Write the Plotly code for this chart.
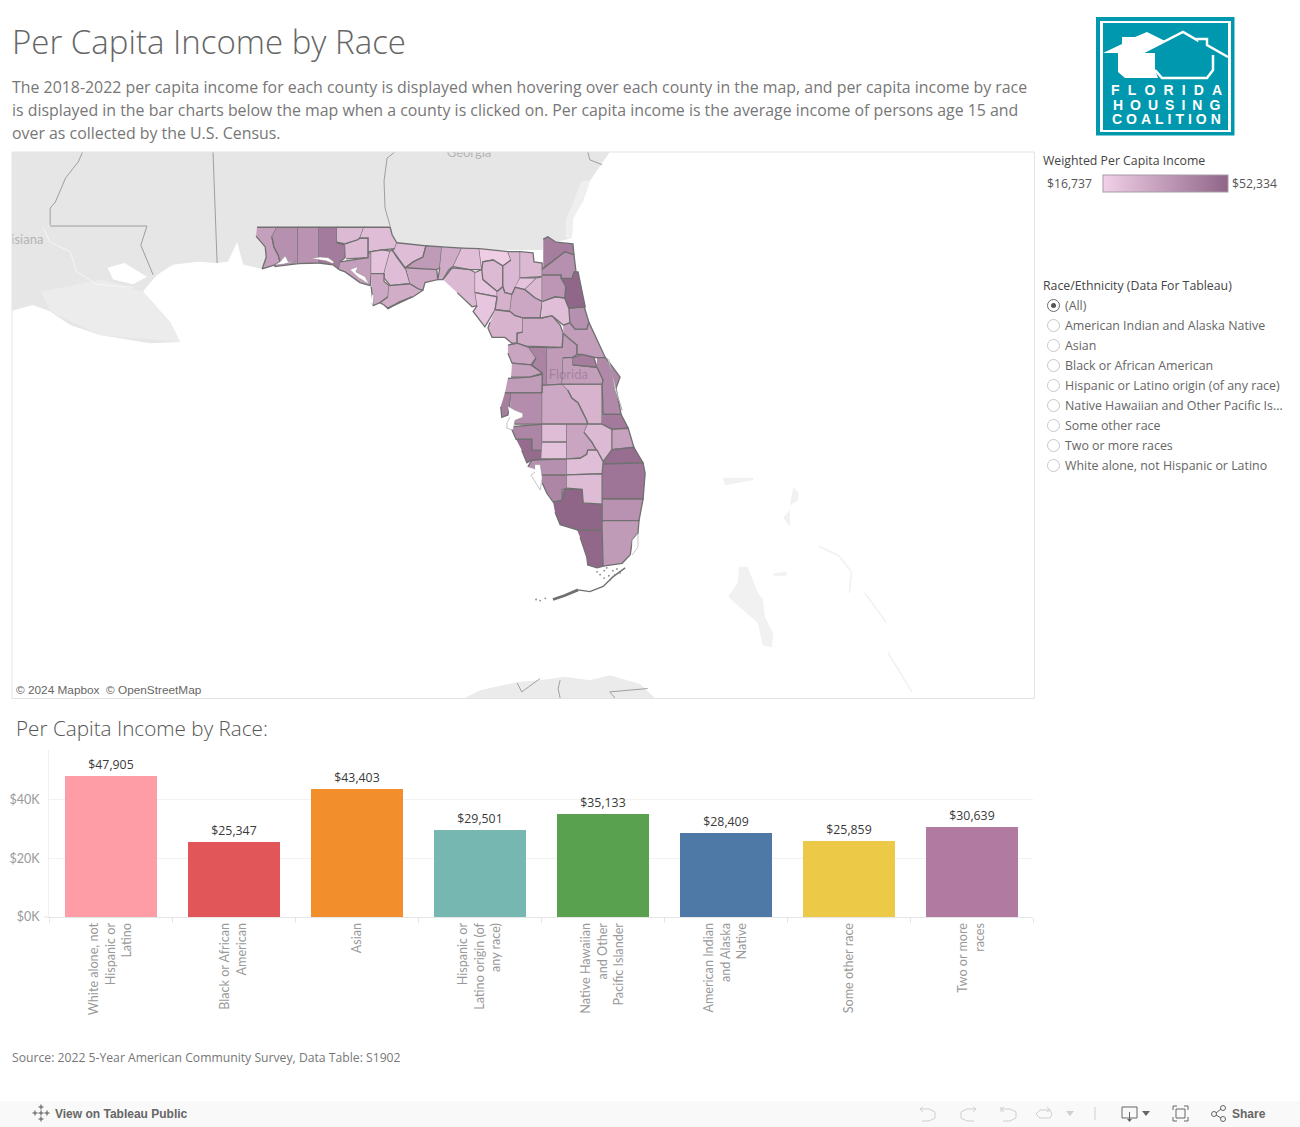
import math
import plotly.graph_objects as go
from plotly.colors import sample_colorscale

W, H = 1300, 1127

# bar chart data
RACE_LABELS = ["White alone, not<br>Hispanic or<br>Latino", "Black or African<br>American", "Asian",
               "Hispanic or<br>Latino origin (of<br>any race)", "Native Hawaiian<br>and Other<br>Pacific Islander",
               "American Indian<br>and Alaska<br>Native", "Some other race", "Two or more<br>races"]
RACE_INCOME = [47905, 25347, 43403, 29501, 35133, 28409, 25859, 30639]
RACE_COLORS = ["#FF9DA7", "#E15759", "#F28E2B", "#76B7B2", "#59A14F", "#4E79A7", "#EDC948", "#B07AA1"]
Y_TICKS = [0, 20000, 40000]
Y_TICK_TEXT = ["$0K", "$20K", "$40K"]

RADIO_OPTIONS = ["(All)", "American Indian and Alaska Native", "Asian", "Black or African American",
                 "Hispanic or Latino origin (of any race)", "Native Hawaiian and Other Pacific Is...",
                 "Some other race", "Two or more races", "White alone, not Hispanic or Latino"]

INCOME_MIN, INCOME_MAX = 16737, 52334
INCOME_SCALE = [[0, "#F1D0E8"], [1, "#8F6588"]]

# county income
COUNTY_INCOME = {
    "Escambia": 32700, "Santa Rosa": 38000, "Okaloosa": 37000, "Walton": 45000, "Holmes": 24000,
    "Washington": 24000, "Jackson": 23000, "Bay": 33000, "Calhoun": 21000, "Liberty": 23000,
    "Gulf": 30000, "Franklin": 28500, "Gadsden": 23000, "Leon": 34500, "Wakulla": 30000,
    "Jefferson": 29000, "Taylor": 24500, "Madison": 22700, "Hamilton": 17800, "Suwannee": 24000,
    "Lafayette": 20300, "Dixie": 20300, "Columbia": 25000, "Baker": 24500, "Union": 21000,
    "Bradford": 24000, "Gilchrist": 27000, "Alachua": 30300, "Levy": 26300, "Marion": 29000,
    "Citrus": 31000, "Sumter": 42000, "Hernando": 32400, "Pasco": 34000, "Pinellas": 44000,
    "Hillsborough": 39000, "Lake": 34500, "Polk": 30000, "Osceola": 26300, "Orange": 33000,
    "Seminole": 44500, "Volusia": 33500, "Flagler": 38000, "Putnam": 22700, "St. Johns": 52000,
    "Clay": 36000, "Duval": 38000, "Nassau": 44500, "Brevard": 40500, "Indian River": 45200,
    "St. Lucie": 32000, "Martin": 49500, "Palm Beach": 47000, "Broward": 37500, "Miami-Dade": 34500,
    "Monroe": 51500, "Collier": 52300, "Lee": 41600, "Charlotte": 38000, "Sarasota": 50000,
    "Manatee": 41600, "Hardee": 23000, "DeSoto": 21400, "Highlands": 31000, "Okeechobee": 24000,
    "Glades": 22700, "Hendry": 23500,
}

# county outlines as lon, lat
COUNTY_OUTLINE = {
    "Escambia": [(-87.58,30.98),(-87.19,30.98),(-87.29,30.82),(-87.25,30.65),(-87.17,30.52),(-87.13,30.40),(-87.23,30.35),(-87.48,30.28),(-87.40,30.48),(-87.42,30.65),(-87.60,30.83)],
    "Santa Rosa": [(-87.19,30.98),(-86.78,30.98),(-86.78,30.37),(-87.23,30.32),(-87.23,30.35),(-87.13,30.40),(-87.17,30.52),(-87.25,30.65),(-87.29,30.82)],
    "Okaloosa": [(-86.78,30.98),(-86.37,30.98),(-86.37,30.47),(-86.37,30.38),(-86.78,30.37)],
    "Walton": [(-86.37,30.98),(-86.02,30.98),(-86.02,30.72),(-85.86,30.68),(-85.86,30.47),(-85.96,30.40),(-85.98,30.27),(-86.10,30.35),(-86.37,30.38)],
    "Holmes": [(-86.02,30.98),(-85.49,30.98),(-85.57,30.80),(-85.61,30.77),(-85.86,30.70),(-86.02,30.73)],
    "Washington": [(-85.86,30.70),(-85.61,30.77),(-85.57,30.80),(-85.41,30.80),(-85.41,30.47),(-85.84,30.45)],
    "Jackson": [(-85.49,30.98),(-84.98,30.98),(-84.94,30.85),(-84.85,30.72),(-84.89,30.62),(-85.14,30.60),(-85.35,30.57),(-85.41,30.57),(-85.41,30.80),(-85.57,30.80)],
    "Bay": [(-85.96,30.40),(-85.41,30.47),(-85.41,30.55),(-85.35,30.55),(-85.35,30.18),(-85.37,30.00),(-85.57,30.05),(-85.86,30.23),(-85.98,30.27)],
    "Calhoun": [(-85.35,30.57),(-85.14,30.60),(-84.98,30.58),(-85.10,30.20),(-85.35,30.20)],
    "Liberty": [(-84.98,30.58),(-84.94,30.60),(-84.85,30.48),(-84.67,30.27),(-84.59,30.03),(-84.98,30.00),(-85.10,30.13),(-85.10,30.20)],
    "Gulf": [(-85.35,30.20),(-85.10,30.20),(-85.10,30.07),(-85.00,30.00),(-85.02,29.81),(-85.18,29.71),(-85.31,29.66),(-85.33,29.83),(-85.35,29.98)],
    "Franklin": [(-85.00,30.00),(-84.59,30.03),(-84.44,29.95),(-84.34,29.92),(-84.53,29.81),(-84.79,29.73),(-85.02,29.61),(-85.10,29.67),(-85.18,29.71),(-85.02,29.81)],
    "Gadsden": [(-84.85,30.72),(-84.28,30.67),(-84.34,30.48),(-84.53,30.40),(-84.69,30.30),(-84.85,30.48),(-84.94,30.60),(-84.89,30.62)],
    "Leon": [(-84.67,30.30),(-84.53,30.40),(-84.34,30.48),(-84.28,30.67),(-83.97,30.65),(-84.01,30.30),(-84.07,30.27)],
    "Wakulla": [(-84.67,30.30),(-84.07,30.27),(-84.05,30.10),(-84.30,30.05),(-84.34,29.92),(-84.44,29.95),(-84.59,30.03)],
    "Jefferson": [(-83.97,30.65),(-83.58,30.63),(-83.75,30.32),(-83.83,30.27),(-83.95,30.10),(-84.05,30.10),(-84.01,30.30)],
    "Taylor": [(-83.95,30.10),(-83.77,30.30),(-83.42,30.27),(-83.32,30.22),(-83.32,29.88),(-83.28,29.66),(-83.38,29.64),(-83.67,29.88)],
    "Madison": [(-83.58,30.63),(-83.24,30.62),(-83.19,30.27),(-83.42,30.27),(-83.75,30.32)],
    "Hamilton": [(-83.24,30.62),(-82.68,30.57),(-82.62,30.43),(-82.78,30.33),(-82.97,30.43),(-83.17,30.40),(-83.19,30.27)],
    "Suwannee": [(-83.19,30.27),(-83.17,30.40),(-82.97,30.43),(-82.78,30.33),(-82.78,29.98),(-82.89,29.90),(-83.17,30.10)],
    "Lafayette": [(-83.32,30.22),(-83.19,30.27),(-83.17,30.10),(-82.89,29.90),(-82.89,29.81),(-83.32,29.88)],
    "Dixie": [(-83.32,29.88),(-82.89,29.81),(-82.93,29.59),(-83.07,29.38),(-83.13,29.30),(-83.36,29.56),(-83.28,29.66)],
    "Columbia": [(-82.68,30.57),(-82.44,30.57),(-82.44,30.13),(-82.54,29.97),(-82.60,29.85),(-82.74,29.88),(-82.78,29.98),(-82.78,30.33),(-82.62,30.43)],
    "Baker": [(-82.44,30.57),(-82.19,30.55),(-82.17,30.40),(-82.01,30.38),(-82.01,30.15),(-82.44,30.13)],
    "Union": [(-82.44,30.13),(-82.11,30.13),(-82.35,29.93),(-82.54,29.97)],
    "Bradford": [(-82.11,30.13),(-82.01,30.15),(-82.01,29.73),(-82.15,29.79),(-82.35,29.93)],
    "Gilchrist": [(-82.89,29.90),(-82.78,29.98),(-82.74,29.88),(-82.60,29.85),(-82.64,29.56),(-82.93,29.59),(-82.89,29.81)],
    "Alachua": [(-82.60,29.85),(-82.54,29.97),(-82.35,29.93),(-82.15,29.79),(-82.01,29.73),(-82.05,29.45),(-82.39,29.45),(-82.54,29.49),(-82.64,29.56)],
    "Levy": [(-82.93,29.59),(-82.64,29.56),(-82.54,29.49),(-82.39,29.45),(-82.39,29.21),(-82.50,29.19),(-82.50,29.02),(-82.60,29.02),(-82.74,29.12),(-82.99,29.12),(-83.07,29.28),(-83.03,29.38)],
    "Marion": [(-82.39,29.45),(-82.03,29.45),(-81.82,29.49),(-81.66,29.33),(-81.60,29.19),(-81.62,28.95),(-82.33,28.97),(-82.50,29.02),(-82.50,29.19),(-82.39,29.21)],
    "Citrus": [(-82.68,28.99),(-82.50,29.02),(-82.27,28.95),(-82.13,28.77),(-82.23,28.65),(-82.60,28.68),(-82.68,28.85)],
    "Sumter": [(-82.27,28.95),(-81.92,28.95),(-81.92,28.30),(-82.01,28.30),(-82.01,28.51),(-82.21,28.65),(-82.13,28.77)],
    "Hernando": [(-82.60,28.68),(-82.23,28.65),(-82.01,28.51),(-82.25,28.44),(-82.62,28.44)],
    "Pasco": [(-82.68,28.42),(-82.25,28.44),(-82.01,28.49),(-82.01,28.17),(-82.74,28.17)],
    "Pinellas": [(-82.74,28.17),(-82.62,28.17),(-82.64,28.00),(-82.68,27.79),(-82.80,27.75),(-82.82,27.93)],
    "Hillsborough": [(-82.62,28.17),(-82.01,28.17),(-82.01,27.63),(-82.54,27.63),(-82.64,27.87)],
    "Lake": [(-81.92,28.94),(-81.62,28.95),(-81.60,29.19),(-81.51,29.12),(-81.33,28.99),(-81.33,28.83),(-81.41,28.78),(-81.60,28.77),(-81.62,28.32),(-81.92,28.30)],
    "Polk": [(-82.01,28.17),(-82.01,28.30),(-81.62,28.32),(-81.51,28.22),(-81.43,28.08),(-81.31,28.00),(-81.21,27.82),(-81.14,27.70),(-81.12,27.63),(-82.01,27.63)],
    "Osceola": [(-81.62,28.32),(-80.84,28.32),(-80.84,27.63),(-81.12,27.63),(-81.14,27.70),(-81.21,27.82),(-81.31,28.00),(-81.43,28.08),(-81.51,28.22)],
    "Orange": [(-81.60,28.77),(-81.41,28.78),(-81.41,28.65),(-80.94,28.61),(-80.82,28.39),(-80.84,28.32),(-81.62,28.32)],
    "Seminole": [(-81.41,28.78),(-81.23,28.83),(-81.00,28.78),(-80.94,28.61),(-81.41,28.65)],
    "Volusia": [(-81.60,29.33),(-81.47,29.37),(-81.37,29.26),(-81.14,29.26),(-81.10,29.38),(-80.78,28.78),(-80.94,28.77),(-81.00,28.78),(-81.23,28.83),(-81.33,28.83),(-81.33,28.99),(-81.51,29.12),(-81.60,29.19)],
    "Flagler": [(-81.49,29.62),(-81.19,29.64),(-81.10,29.38),(-81.14,29.26),(-81.37,29.26),(-81.47,29.37)],
    "Putnam": [(-82.01,29.73),(-81.76,29.81),(-81.57,29.79),(-81.49,29.62),(-81.47,29.37),(-81.60,29.33),(-81.82,29.49),(-82.03,29.45)],
    "St. Johns": [(-81.64,30.12),(-81.43,30.12),(-81.39,30.23),(-81.31,30.23),(-81.17,29.64),(-81.49,29.62),(-81.57,29.79),(-81.55,29.98)],
    "Clay": [(-82.01,30.18),(-81.64,30.18),(-81.64,30.12),(-81.55,29.98),(-81.57,29.79),(-81.76,29.81),(-82.01,29.73)],
    "Duval": [(-82.01,30.27),(-81.82,30.40),(-81.57,30.57),(-81.39,30.52),(-81.35,30.23),(-81.39,30.23),(-81.43,30.12),(-81.64,30.12),(-81.64,30.18),(-82.01,30.18)],
    "Nassau": [(-81.99,30.78),(-81.90,30.82),(-81.74,30.73),(-81.41,30.70),(-81.39,30.52),(-81.57,30.57),(-81.82,30.40),(-81.99,30.30)],
    "Brevard": [(-80.94,28.77),(-80.78,28.78),(-80.69,28.68),(-80.49,28.44),(-80.57,28.25),(-80.47,27.80),(-80.82,27.80),(-80.84,28.32),(-80.82,28.39),(-80.94,28.61)],
    "Indian River": [(-80.82,27.80),(-80.47,27.80),(-80.33,27.56),(-80.65,27.54),(-80.84,27.63)],
    "St. Lucie": [(-80.65,27.54),(-80.33,27.56),(-80.22,27.23),(-80.65,27.19)],
    "Martin": [(-80.65,27.19),(-80.22,27.23),(-80.16,27.14),(-80.04,26.96),(-80.84,26.94),(-80.82,26.98)],
    "Palm Beach": [(-80.84,26.94),(-80.04,26.96),(-80.00,26.78),(-80.04,26.33),(-80.84,26.33)],
    "Broward": [(-80.84,26.33),(-80.04,26.33),(-80.12,25.95),(-80.84,25.95)],
    "Miami-Dade": [(-80.84,25.95),(-80.12,25.95),(-80.14,25.73),(-80.25,25.61),(-80.29,25.35),(-80.45,25.20),(-80.82,25.15)],
    "Monroe": [(-81.33,25.79),(-80.84,25.79),(-80.82,25.15),(-80.94,25.12),(-81.12,25.17),(-81.14,25.31),(-81.27,25.66)],
    "Collier": [(-81.80,26.28),(-81.62,26.31),(-81.58,26.50),(-81.23,26.50),(-81.21,26.26),(-80.84,26.24),(-80.84,25.79),(-81.33,25.79),(-81.66,25.88),(-81.76,26.10)],
    "Lee": [(-82.05,26.75),(-81.53,26.75),(-81.53,26.52),(-81.62,26.49),(-81.62,26.31),(-81.80,26.28),(-81.92,26.43),(-82.01,26.61)],
    "Charlotte": [(-82.29,26.89),(-82.21,27.01),(-81.53,27.03),(-81.53,26.75),(-82.05,26.75),(-82.15,26.85)],
    "Sarasota": [(-82.52,27.37),(-82.21,27.37),(-82.21,27.18),(-82.01,27.18),(-82.03,27.03),(-82.21,27.01),(-82.31,26.96),(-82.41,27.18)],
    "Manatee": [(-82.70,27.58),(-82.01,27.63),(-82.01,27.18),(-82.21,27.18),(-82.21,27.37),(-82.52,27.37),(-82.60,27.53)],
    "Hardee": [(-82.01,27.63),(-81.53,27.63),(-81.53,27.32),(-82.01,27.32)],
    "DeSoto": [(-82.01,27.32),(-81.53,27.32),(-81.53,27.03),(-82.03,27.03)],
    "Highlands": [(-81.53,27.63),(-81.12,27.63),(-81.19,27.49),(-81.04,27.32),(-80.94,27.18),(-81.12,27.18),(-81.14,27.11),(-81.27,27.04),(-81.53,27.03)],
    "Okeechobee": [(-81.12,27.63),(-80.84,27.63),(-80.65,27.54),(-80.65,27.19),(-80.82,26.98),(-80.94,27.18),(-81.04,27.32),(-81.19,27.49)],
    "Glades": [(-81.53,27.03),(-81.27,27.04),(-81.14,27.11),(-81.12,27.18),(-80.94,27.18),(-80.82,26.98),(-80.84,26.77),(-81.53,26.75)],
    "Hendry": [(-81.53,26.75),(-80.84,26.77),(-80.84,26.24),(-81.21,26.26),(-81.23,26.50),(-81.53,26.52)],
}

WATER = [
    [(-87.23,30.35),(-87.13,30.40),(-87.03,30.50),(-86.97,30.40),(-86.82,30.41),(-87.03,30.37)],
    [(-86.51,30.46),(-86.35,30.48),(-86.19,30.47),(-86.08,30.40),(-86.10,30.37),(-86.25,30.42)],
    [(-85.76,30.27),(-85.61,30.32),(-85.65,30.23),(-85.47,30.15),(-85.39,30.02),(-85.57,30.12)],
    [(-85.33,29.85),(-85.30,29.85),(-85.31,29.67),(-85.35,29.71)],
    [(-82.68,27.94),(-82.54,27.87),(-82.39,27.82),(-82.39,27.75),(-82.54,27.70),(-82.58,27.53),(-82.70,27.56),(-82.70,27.65),(-82.64,27.75)],
    [(-82.15,26.93),(-82.05,26.93),(-82.01,26.70),(-82.05,26.49),(-82.15,26.63),(-82.23,26.75),(-82.15,26.80)],
    [(-80.25,25.61),(-80.14,25.73),(-80.14,25.49),(-80.25,25.35)],
    [(-80.74,28.77),(-80.65,28.51),(-80.59,28.22),(-80.45,27.87),(-80.55,28.17),(-80.71,28.75)],
]
KEYS_LINE = [(-81.31,24.73),(-81.08,24.70),(-80.82,24.79),(-80.63,24.96),(-80.39,25.12)]
KEYS_THICK = [(-81.80,24.56),(-81.57,24.63),(-81.31,24.73)]
KEYS_DOTS_LON = [-82.13, -82.05, -81.95, -80.94, -80.88, -80.80, -80.71, -80.63, -80.55, -80.80, -80.69, -80.59, -80.49, -80.75]
KEYS_DOTS_LAT = [24.56, 24.54, 24.58, 25.05, 25.00, 25.07, 24.98, 25.07, 25.10, 24.94, 24.90, 25.00, 25.03, 25.12]
BARRIER_LINE = [(-85.04,29.61),(-84.73,29.73),(-84.55,29.81)]

LAND = [(-92.5,29.54),(-91.96,29.67),(-91.62,29.56),(-91.23,29.33),(-90.65,29.16),(-89.67,29.02),(-89.08,29.04),
        (-89.28,29.38),(-89.81,29.90),(-89.53,30.18),(-89.22,30.35),(-88.75,30.40),(-88.36,30.38),(-88.15,30.40),
        (-87.97,30.73),(-87.85,30.35),(-87.48,30.28),(-87.0,30.6),(-85.0,30.6),(-82.0,30.6),(-81.99,30.78),(-81.74,30.73),
        (-81.43,30.80),(-81.41,31.13),(-81.21,31.42),(-81.08,31.75),(-80.84,32.05),(-80.69,32.23),(-80.4,32.3),(-80.4,32.6),(-92.5,32.6)]
LA_SHALLOWS = [(-91.8,29.9),(-90.6,30.1),(-89.81,29.90),(-89.28,29.38),(-89.08,29.04),(-90.65,29.16),(-91.62,29.56)]
GA_SHALLOWS = [(-81.43,30.80),(-81.41,31.13),(-81.21,31.42),(-81.08,31.75),(-81.25,31.75),(-81.40,31.40),(-81.55,31.1),(-81.55,30.8)]
LAKE_PONTCHARTRAIN = [(-90.50,30.30),(-90.17,30.38),(-89.73,30.15),(-90.0,30.02),(-90.39,30.10)]
LA_RIVER = [(-91.76,30.98),(-91.62,30.73),(-91.23,30.57),(-91.10,30.23),(-90.71,30.02),(-90.0,29.97)]
BAHAMAS = [
    [(-78.48,26.70),(-77.89,26.70),(-77.89,26.66),(-78.44,26.57)],
    [(-77.11,26.54),(-77.01,26.45),(-77.01,26.31),(-77.17,26.22)],
    [(-77.17,26.14),(-77.17,25.84),(-77.30,26.0)],
    [(-78.17,25.14),(-78.00,25.14),(-77.80,24.68),(-77.70,24.56),(-77.66,24.25),(-77.50,23.96),(-77.52,23.71),(-77.70,23.74),(-77.80,24.14),(-78.15,24.43),(-78.38,24.61),(-78.19,24.86)],
    [(-77.50,25.02),(-77.23,25.05),(-77.25,24.98),(-77.48,24.98)],
]
BAHAMAS_THIN = [
    [(-76.60,25.50),(-76.21,25.33),(-75.97,25.05),(-76.01,24.68)],
    [(-75.71,24.68),(-75.28,24.14)],
    [(-75.26,23.62),(-74.79,22.91)],
]
CUBA = [(-83.52,22.80),(-83.22,22.94),(-82.83,23.02),(-82.44,23.09),(-82.05,23.12),(-81.57,23.18),(-81.08,23.12),
        (-80.69,23.21),(-80.10,23.05),(-79.81,22.80),(-79.8,22.4),(-83.5,22.4)]
STATE_LINES = [
    [(-88.44,32.5),(-88.44,32.23),(-88.36,30.38)],
    [(-91.62,31.0),(-89.73,31.0),(-89.85,30.68),(-89.77,30.52),(-89.61,30.18)],
    [(-91.62,31.02),(-91.62,31.30),(-91.52,31.40),(-91.32,31.80),(-91.07,32.07),(-90.99,32.23),(-90.9,32.4)],
    [(-84.89,32.23),(-85.04,32.13),(-85.10,31.75),(-85.08,31.30),(-84.98,31.0)],
    [(-81.12,32.23),(-81.08,32.10),(-80.84,32.02)],
    [(-82.50,23.07),(-82.41,22.91),(-82.05,23.15)],
    [(-81.66,23.12),(-81.70,22.97),(-81.66,22.80)],
    [(-79.95,22.97),(-80.69,22.91),(-80.59,22.80)],
]
MAP_LABELS = [("Georgia", -83.44, 32.20, "#B4B4B4"), ("Louisiana", -92.27, 30.75, "#B4B4B4"),
              ("Florida", -81.50, 28.46, "rgba(120,85,110,0.4)")]
MAP_LON_RANGE = [-92.366, -72.405]
MAP_LAT_RANGE = [22.80, 32.23]

BODY_FONT = "Open Sans"


def merc(lat):
    # web mercator northing in degrees, same as the base map
    return math.degrees(math.log(math.tan(math.pi / 4 + math.radians(lat) / 2)))


def fx(px):
    return px / W


def fy(py):
    return 1 - py / H


def outline(points):
    return [p[0] for p in points], [merc(p[1]) for p in points]


def income_color(value):
    return sample_colorscale(INCOME_SCALE, (value - INCOME_MIN) / (INCOME_MAX - INCOME_MIN))[0]


def px_path(points, close=False):
    path = "M" + " L".join(f"{fx(x):.5f},{fy(y):.5f}" for x, y in points)
    return path + " Z" if close else path


fig = go.Figure()


def add_area(points, fill, line_color=None, line_width=0):
    xs, ys = outline(points)
    fig.add_trace(go.Scatter(x=xs, y=ys, mode="lines", fill="toself", fillcolor=fill,
                             line=dict(color=line_color or fill, width=line_width),
                             hoverinfo="skip", showlegend=False))


def add_line(points, color, width):
    xs, ys = outline(points)
    fig.add_trace(go.Scatter(x=xs, y=ys, mode="lines", line=dict(color=color, width=width),
                             hoverinfo="skip", showlegend=False))


add_area(LAND, "#E6E6E6")
add_area(LA_SHALLOWS, "#ECECEC")
add_area(GA_SHALLOWS, "#EFEFEF")
add_area(LAKE_PONTCHARTRAIN, "#FFFFFF")
add_line(LA_RIVER, "#F6F6F6", 0.9)
for isle in BAHAMAS:
    add_area(isle, "#F1F1F1")
for isle in BAHAMAS_THIN:
    add_line(isle, "#F1F1F1", 1.5)
add_area(CUBA, "#EBEBEB")
for seg in STATE_LINES:
    add_line(seg, "#8C8C8C", 0.8)

for name, pts in COUNTY_OUTLINE.items():
    xs, ys = outline(pts)
    fig.add_trace(go.Scatter(x=xs, y=ys, mode="lines", fill="toself", name=name,
                             fillcolor=income_color(COUNTY_INCOME[name]),
                             line=dict(color="#707070", width=1.3),
                             hovertemplate=f"{name}: ${COUNTY_INCOME[name]:,}<extra></extra>", showlegend=False))
for bay in WATER:
    add_area(bay, "#FFFFFF", "#8A8A8A", 0.5)
add_line(KEYS_LINE, "#707070", 1.4)
add_line(KEYS_THICK, "#707070", 2.8)
add_line(BARRIER_LINE, "#707070", 1.6)
fig.add_trace(go.Scatter(x=KEYS_DOTS_LON, y=[merc(v) for v in KEYS_DOTS_LAT], mode="markers",
                         marker=dict(color="#8A8A8A", size=1.8), hoverinfo="skip", showlegend=False))

fig.add_trace(go.Scatter(x=[m[1] for m in MAP_LABELS], y=[merc(m[2]) for m in MAP_LABELS],
                         text=[m[0] for m in MAP_LABELS], mode="text", cliponaxis=True,
                         textfont=dict(family="Lato", size=13, color=[m[3] for m in MAP_LABELS]),
                         hoverinfo="skip", showlegend=False))

# only there to carry the gradient legend
fig.add_trace(go.Scatter(x=[None] * len(COUNTY_INCOME), y=[None] * len(COUNTY_INCOME), mode="markers",
                         marker=dict(color=list(COUNTY_INCOME.values()), colorscale=INCOME_SCALE,
                                     cmin=INCOME_MIN, cmax=INCOME_MAX, showscale=True,
                                     colorbar=dict(orientation="h", x=fx(1102.5), xanchor="left", y=fy(193), yanchor="bottom",
                                                   len=125, lenmode="pixels", thickness=17, thicknessmode="pixels",
                                                   xpad=0, ypad=0, outlinewidth=1, outlinecolor="#A89AA5",
                                                   showticklabels=False, ticks="")),
                         hoverinfo="skip", showlegend=False))

fig.add_trace(go.Bar(x=RACE_LABELS, y=RACE_INCOME, xaxis="x2", yaxis="y2", width=0.748,
                     marker=dict(color=RACE_COLORS, line=dict(width=0)),
                     text=[f"${v:,}" for v in RACE_INCOME], textposition="outside", cliponaxis=False,
                     textfont=dict(family=BODY_FONT, size=12.3, color="#3A3A3A"),
                     hovertemplate="%{y:$,}<extra></extra>", showlegend=False))

annotations = []


def note(x, y, text, size, color, anchor="left", family=BODY_FONT, weight=None):
    annotations.append(dict(x=fx(x), y=fy(y), xref="paper", yref="paper", text=text, showarrow=False,
                            xanchor=anchor, yanchor="middle", align=anchor, xshift=-1 if anchor == "left" else 0,
                            borderpad=0, font=dict(family=family, size=size, color=color, weight=weight)))


note(12, 41, "Per Capita Income by Race", 33, "#666666", weight=300)
note(12, 87, "The 2018-2022 per capita income for each county is displayed when hovering over each county in the map, and per capita income by race", 15.9, "#777777")
note(12, 110, "is displayed in the bar charts below the map when a county is clicked on. Per capita income is the average income of persons age 15 and", 15.9, "#777777")
note(12, 133, "over as collected by the U.S. Census.", 15.9, "#777777")
note(16, 728, "Per Capita Income by Race:", 20.7, "#555555", weight=300)
note(12, 1057, "Source: 2022 5-Year American Community Survey, Data Table: S1902", 12.2, "#777777")
note(1043, 160, "Weighted Per Capita Income", 12.3, "#444444")
note(1047, 184, "$16,737", 12.2, "#555555")
note(1232, 184, "$52,334", 12.2, "#555555")
note(1043, 285, "Race/Ethnicity (Data For Tableau)", 12.3, "#444444")
note(16, 690, "© 2024 Mapbox  © OpenStreetMap", 11.8, "#666666", family="Liberation Sans")
note(55, 1114, "<b>View on Tableau Public</b>", 12, "#666666", family="Liberation Sans")
note(1232, 1114, "<b>Share</b>", 12, "#666666", family="Liberation Sans")
note(1166, 90, "<b>F\u2002\u200aL\u2002\u200aO\u2002\u200aR\u2002\u200aI\u2002\u200aD\u2002\u200aA</b>", 14, "#FFFFFF", "center", "Liberation Sans")
note(1166, 104.5, "<b>H\u2002O\u2002U\u2002S\u2002I\u2002N\u2002G</b>", 14, "#FFFFFF", "center", "Liberation Sans")
note(1166, 119, "<b>C\u2009\u200aO\u2009\u200aA\u2009\u200aL\u2009\u200aI\u2009\u200aT\u2009\u200aI\u2009\u200aO\u2009\u200aN</b>", 14, "#FFFFFF", "center", "Liberation Sans")

shapes = []


def rect(x0, y0, x1, y1, fill="rgba(0,0,0,0)", line="rgba(0,0,0,0)", width=0, layer="above"):
    shapes.append(dict(type="rect", xref="paper", yref="paper", x0=fx(x0), x1=fx(x1), y0=fy(y0), y1=fy(y1),
                       fillcolor=fill, line=dict(color=line, width=width), layer=layer))


def poly(points, fill=None, line="rgba(0,0,0,0)", width=0, close=True):
    shapes.append(dict(type="path", xref="paper", yref="paper", path=px_path(points, close),
                       fillcolor=fill or "rgba(0,0,0,0)", line=dict(color=line, width=width)))


# map frame
rect(12, 152, 1034.5, 698.5, line="#E3E3E3", width=1)
# radio list
for i, label in enumerate(RADIO_OPTIONS):
    cy = 305.5 + 20 * i
    active = i == 0
    shapes.append(dict(type="circle", xref="paper", yref="paper", x0=fx(1047.5), x1=fx(1059.5), y0=fy(cy - 6), y1=fy(cy + 6),
                       fillcolor="#FFFFFF", line=dict(color="#6A6A6A" if active else "#C8C8C8", width=1)))
    if active:
        shapes.append(dict(type="circle", xref="paper", yref="paper", x0=fx(1051), x1=fx(1056), y0=fy(cy - 2.5), y1=fy(cy + 2.5),
                           fillcolor="#555555", line=dict(width=0)))
    note(1064.5, cy, label, 12.4, "#666666")

# logo
rect(1096, 17, 1234.5, 135.5, fill="#0098AE", line="#0098AE", width=0)
rect(1100, 21, 1231, 132, fill="#FFFFFF")
rect(1103, 23, 1228, 130, fill="#0098AE")
poly([(1103,53),(1122,44),(1122,37),(1135,37),(1147,32),(1165,41),(1142,53),(1155,53),(1155,70),(1158,78),(1125,78),(1118,72),(1118,53)], fill="#FFFFFF")
poly([(1142,53),(1183,32),(1197,40),(1197,39),(1207,39),(1207,45),(1228,57)], line="#FFFFFF", width=2.5, close=False)
poly([(1155,70),(1162,78),(1207,78),(1213,70),(1213,55)], line="#FFFFFF", width=2.5, close=False)

# bottom toolbar
rect(0, 1101, 1300, 1127, fill="#F9F9F9", layer="below")
GREY = "#CFCFCF"
DARK = "#666666"
for pts in ([(923,1107),(920,1109),(923,1112)], [(920,1109),(929,1109),(935,1112),(935,1118),(929,1121),(922,1121)],
            [(973,1107),(976,1109),(973,1112)], [(976,1109),(967,1109),(961,1112),(961,1118),(967,1121),(974,1121)],
            [(1004,1107),(1001,1109),(1004,1112)], [(1001,1109),(1010,1109),(1016,1112),(1016,1118),(1010,1121),(1003,1121)],
            [(1001,1107),(1001,1112)],
            [(1040,1110),(1050,1110),(1052,1114),(1050,1118),(1040,1118),(1036,1114),(1040,1110)], [(1047,1107),(1050,1110),(1047,1112)],
            [(1095,1107),(1095,1120)]):
    poly(pts, line=GREY, width=1, close=False)
poly([(1066,1111),(1074,1111),(1070,1116)], fill=GREY)
poly([(1129,1118),(1122,1118),(1122,1107),(1137,1107),(1137,1118),(1130,1118)], line=DARK, width=1, close=False)
poly([(1129.5,1112),(1129.5,1121)], line=DARK, width=1, close=False)
poly([(1127,1119),(1132,1119),(1129.5,1122)], fill=DARK)
poly([(1142,1111),(1150,1111),(1146,1116)], fill=DARK)
for pts in ([(1173,1110),(1173,1106),(1177,1106)], [(1184,1106),(1188,1106),(1188,1110)],
            [(1173,1117),(1173,1121),(1177,1121)], [(1184,1121),(1188,1121),(1188,1117)]):
    poly(pts, line=DARK, width=1, close=False)
rect(1176, 1109, 1185, 1118, line=DARK, width=1)
for cx, cy in ((1214, 1114), (1223, 1108), (1223, 1119)):
    shapes.append(dict(type="circle", xref="paper", yref="paper", x0=fx(cx - 2.5), x1=fx(cx + 2.5), y0=fy(cy - 2.5), y1=fy(cy + 2.5),
                       line=dict(color=DARK, width=1)))
poly([(1216,1113),(1221,1109)], line=DARK, width=1, close=False)
poly([(1216,1115),(1221,1118)], line=DARK, width=1, close=False)
for cx, cy in ((41, 1107), (41, 1119), (35, 1113), (47, 1113), (41, 1113)):
    poly([(cx - 2.5, cy), (cx + 2.5, cy)], line=DARK, width=1.2, close=False)
    poly([(cx, cy - 2.5), (cx, cy + 2.5)], line=DARK, width=1.2, close=False)

# small tick left of the bar baseline
poly([(44, 917), (49, 917)], line="#E6E6E6", width=1, close=False)

fig.update_layout(
    width=W, height=H, autosize=False, margin=dict(l=0, r=0, t=0, b=0, autoexpand=False),
    paper_bgcolor="#FFFFFF", plot_bgcolor="rgba(0,0,0,0)", showlegend=False,
    annotations=annotations, shapes=shapes, bargap=0,
    xaxis=dict(domain=[fx(12), fx(1034)], range=MAP_LON_RANGE, visible=False, fixedrange=True),
    yaxis=dict(domain=[fy(698), fy(152)], range=[merc(v) for v in MAP_LAT_RANGE], visible=False, fixedrange=True),
    xaxis2=dict(domain=[fx(49), fx(1033)], anchor="y2", type="category", range=[-0.5, 7.5], tickson="boundaries",
                ticks="outside", ticklen=5, tickcolor="#E6E6E6", tickangle=-90, showgrid=False, zeroline=False,
                showline=True, linecolor="#E6E6E6", linewidth=1,
                tickfont=dict(family="Lato", size=12.6, color="#999999"), fixedrange=True),
    yaxis2=dict(domain=[fy(917), fy(750)], anchor="x2", range=[0, 56800], tickvals=Y_TICKS, ticktext=Y_TICK_TEXT,
                ticks="outside", ticklen=6, tickcolor="#FFFFFF", showgrid=True, gridcolor="#F2F2F2", zeroline=False,
                showline=True, linecolor="#F0F0F0", linewidth=1,
                tickfont=dict(family="Lato", size=12.5, color="#999999"), fixedrange=True),
)

fig.write_html("out.html", config=dict(displayModeBar=False),
               post_script="document.body.style.margin='0';document.body.style.overflow='hidden';")
